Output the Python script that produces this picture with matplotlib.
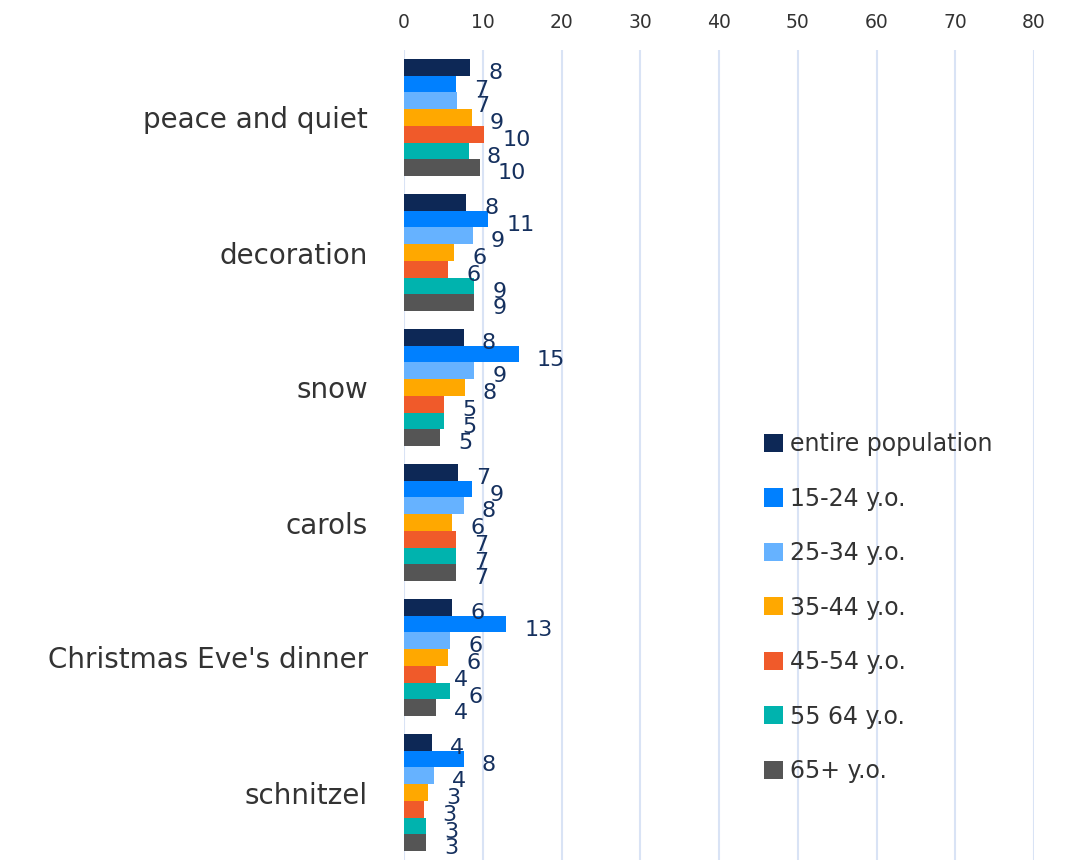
import matplotlib.pyplot as plt
import numpy as np

# categories top to bottom
categories = ["peace and quiet", "decoration", "snow", "carols",
              "Christmas Eve's dinner", "schnitzel"]
series_names = ["entire population", "15-24 y.o.", "25-34 y.o.", "35-44 y.o.",
                "45-54 y.o.", "55 64 y.o.", "65+ y.o."]
colors = ["#0D2856", "#0080FF", "#66B2FF", "#FFA800",
          "#F05A2A", "#00B3AE", "#555555"]

# values per series (one entry per category)
entire = [8.4, 7.9, 7.6, 6.9, 6.1, 3.6]
age_15_24 = [6.6, 10.7, 14.6, 8.6, 13.0, 7.6]
age_25_34 = [6.7, 8.7, 8.9, 7.6, 5.9, 3.8]
age_35_44 = [8.6, 6.4, 7.7, 6.1, 5.6, 3.1]
age_45_54 = [10.2, 5.6, 5.1, 6.6, 4.1, 2.6]
age_55_64 = [8.2, 8.9, 5.1, 6.6, 5.9, 2.8]
age_65 = [9.6, 8.9, 4.6, 6.6, 4.1, 2.8]
series = [entire, age_15_24, age_25_34, age_35_44, age_45_54, age_55_64, age_65]

fig = plt.figure(figsize=(10.77, 8.6), dpi=100)
ax = fig.add_axes([404 / 1077, 0.0, 630 / 1077, 1 - 50 / 860])

y = np.arange(len(categories))
bh = 0.124
for i, (vals, name, c) in enumerate(zip(series, series_names, colors)):
    pos = y - 3 * bh + i * bh
    ax.barh(pos, vals, height=bh, color=c, label=name, zorder=3)
    for p, v in zip(pos, vals):
        ax.annotate(f"{v:.0f}", (v, p), xytext=(13, -4), textcoords="offset points",
                    ha="left", va="center", fontsize=16, color="#15305E", zorder=4)

ax.set_xlim(0, 80)
ax.set_xticks(range(0, 81, 10))
ax.set_ylim(len(categories) - 0.5, -0.5)
ax.set_yticks(y)
ax.set_yticklabels(categories)
ax.xaxis.tick_top()
ax.tick_params(axis="x", length=0, labelsize=13.5, labelcolor="#333333", pad=13)
ax.tick_params(axis="y", length=0, labelsize=20, labelcolor="#333333", pad=26)
for s in ax.spines.values():
    s.set_visible(False)
ax.grid(axis="x", color="#D9E3F5", linewidth=1.5, zorder=0)
ax.set_axisbelow(True)

ax.legend(loc="upper left", bbox_to_anchor=(743 / 1077, 1 - 411 / 860),
          bbox_transform=fig.transFigure, frameon=False, fontsize=17,
          labelspacing=1.29, handlelength=0.8, handleheight=0.8,
          handletextpad=0.3, labelcolor="#333333")

fig.savefig("out.png", dpi=100)
